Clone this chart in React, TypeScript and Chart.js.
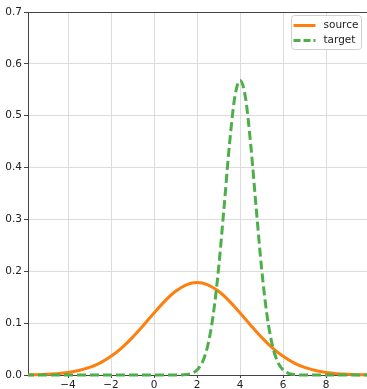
import React, { useEffect, useRef } from "react";
import { Chart, registerables } from "chart.js";

Chart.register(...registerables);

const sourceX = [-6, -5.5, -5, -4.5, -4, -3.5, -3, -2.5, -2, -1.5, -1, -0.5, 0, 0.5, 1, 1.5, 2, 2.5, 3, 3.5, 4, 4.5, 5, 5.5, 6, 6.5, 7, 7.5, 8, 8.5, 9, 9.5, 10];
const sourceY = [0.0003, 0.0006, 0.0013, 0.0026, 0.0049, 0.0087, 0.0146, 0.0235, 0.036, 0.0524, 0.0725, 0.0955, 0.1196, 0.1425, 0.1614, 0.174, 0.1784, 0.174, 0.1614, 0.1425, 0.1196, 0.0955, 0.0725, 0.0524, 0.036, 0.0235, 0.0146, 0.0087, 0.0049, 0.0026, 0.0013, 0.0006, 0.0003];

const targetX = [-6, 1, 1.5, 1.75, 2, 2.25, 2.5, 2.75, 3, 3.25, 3.5, 3.75, 4, 4.25, 4.5, 4.75, 5, 5.25, 5.5, 5.75, 6, 6.25, 6.5, 7, 10];
const targetY = [0, 0, 0.001, 0.0033, 0.0096, 0.025, 0.0574, 0.1157, 0.2054, 0.321, 0.4416, 0.535, 0.568, 0.535, 0.4416, 0.321, 0.2054, 0.1157, 0.0574, 0.025, 0.0096, 0.0033, 0.001, 0, 0];

const seriesNames = ["source", "target"];
const seriesColors = ["#ff7f0e", "#4daf4a"];
const xTicks = [-4, -2, 0, 2, 4, 6, 8];
const yTicks = [0, 0.1, 0.2, 0.3, 0.4, 0.5, 0.6, 0.7];

const FONT = "'DejaVu Sans', sans-serif";

const legendPlugin = {
  id: "mplLegend",
  afterDraw(chart: any) {
    const ctx = chart.ctx;
    const a = chart.chartArea;
    ctx.save();
    ctx.strokeStyle = "#444";
    ctx.lineWidth = 1;
    ctx.beginPath();
    ctx.moveTo(a.left, a.top + 0.5);
    ctx.lineTo(a.right, a.top + 0.5);
    ctx.stroke();
    const w = 70, h = 34;
    const x0 = a.right - w - 5.5, y0 = a.top + 3.5;
    ctx.fillStyle = "rgba(255,255,255,0.85)";
    ctx.strokeStyle = "#d0d0d0";
    ctx.beginPath();
    (ctx as any).roundRect(x0, y0, w, h, 3);
    ctx.fill();
    ctx.stroke();
    ctx.font = `10.5px ${FONT}`;
    ctx.textBaseline = "middle";
    seriesNames.forEach((name, i) => {
      const yy = y0 + 10 + i * 15;
      ctx.strokeStyle = seriesColors[i];
      ctx.lineWidth = 3;
      ctx.setLineDash(i === 1 ? [7, 3] : []);
      ctx.beginPath();
      ctx.moveTo(x0 + 2, yy);
      ctx.lineTo(x0 + 24, yy);
      ctx.stroke();
      ctx.setLineDash([]);
      ctx.fillStyle = "#222";
      ctx.fillText(name, x0 + 32, yy);
    });
    ctx.restore();
  },
};

export default function App() {
  const ref = useRef<HTMLCanvasElement>(null);
  useEffect(() => {
    if (!ref.current) return;
    const chart = new Chart(ref.current, {
      type: "line",
      data: {
        datasets: [
          {
            label: seriesNames[0],
            data: sourceX.map((x, i) => ({ x, y: sourceY[i] })),
            borderColor: seriesColors[0],
            borderWidth: 3,
            pointRadius: 0,
            cubicInterpolationMode: "monotone",
            order: 1,
            clip: { left: 0, top: 0, right: 0, bottom: 5 } as any,
          },
          {
            label: seriesNames[1],
            data: targetX.map((x, i) => ({ x, y: targetY[i] })),
            borderColor: seriesColors[1],
            borderWidth: 3,
            borderDash: [9, 4],
            pointRadius: 0,
            cubicInterpolationMode: "monotone",
            order: 0,
            clip: { left: 0, top: 0, right: 0, bottom: 5 } as any,
          },
        ],
      },
      options: {
        animation: false,
        responsive: false,
        layout: { padding: { top: 12, right: 0, left: 0, bottom: 0 } },
        plugins: { legend: { display: false }, tooltip: { enabled: false } },
        scales: {
          x: {
            type: "linear",
            min: -5.86,
            max: 9.9,
            afterBuildTicks: (s: any) => {
              s.ticks = xTicks.map((v) => ({ value: v }));
            },
            afterFit: (s: any) => {
              s.height = 14;
            },
            ticks: {
              font: { family: FONT, size: 10.5 },
              color: "#222",
              padding: 1,
              maxRotation: 0,
              callback: (v: any) => String(v).replace("-", "\u2212"),
            },
            grid: { color: "#dcdcdc", lineWidth: 1, tickLength: 3, tickColor: "#444" },
            border: { color: "#444", width: 1 },
          },
          y: {
            min: 0,
            max: 0.7,
            afterBuildTicks: (s: any) => {
              s.ticks = yTicks.map((v) => ({ value: v }));
            },
            afterFit: (s: any) => {
              s.width = 28;
            },
            ticks: {
              font: { family: FONT, size: 10.5 },
              color: "#222",
              padding: 2,
              callback: (v: any) => Number(v).toFixed(1),
            },
            grid: { color: "#dcdcdc", lineWidth: 1, tickLength: 4, tickColor: "#444" },
            border: { color: "#444", width: 1 },
          },
        },
      },
      plugins: [legendPlugin],
    });
    return () => chart.destroy();
  }, []);
  return (
    <div style={{ position: "fixed", left: 0, top: 0, width: 367, height: 389, background: "#fff" }}>
      <canvas ref={ref} width={367} height={389} />
    </div>
  );
}
